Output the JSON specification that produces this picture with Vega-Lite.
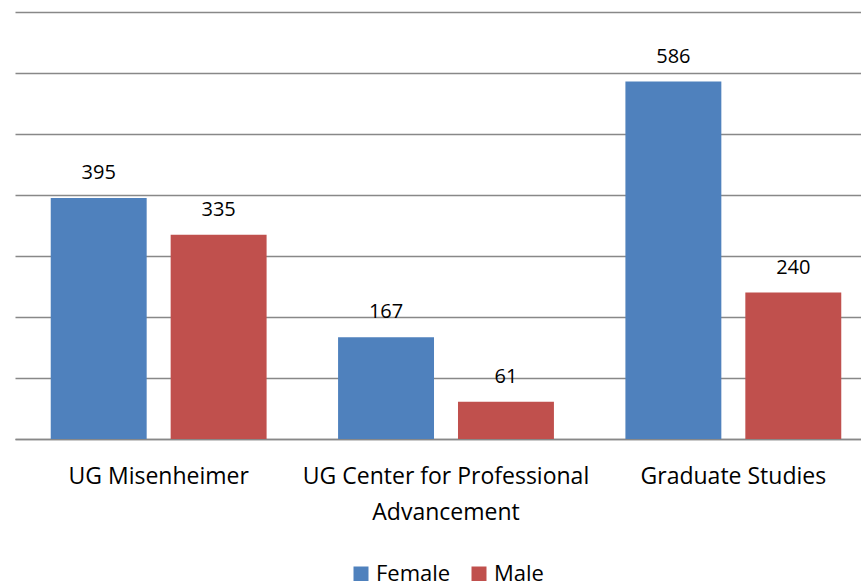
{
  "$schema": "https://vega.github.io/schema/vega-lite/v6.json",
  "width": 862,
  "height": 427,
  "autosize": {"type": "none"},
  "padding": {"left": 15, "top": 12, "right": 0, "bottom": 142},
  "background": "white",
  "config": {"view": {"stroke": null}},
  "data": {
    "values": [
      {"program": "UG Misenheimer", "gender": "Female", "count": 395},
      {"program": "UG Misenheimer", "gender": "Male", "count": 335},
      {"program": "UG Center for Professional|Advancement", "gender": "Female", "count": 167},
      {"program": "UG Center for Professional|Advancement", "gender": "Male", "count": 61},
      {"program": "Graduate Studies", "gender": "Female", "count": 586},
      {"program": "Graduate Studies", "gender": "Male", "count": 240}
    ]
  },
  "encoding": {
    "x": {
      "field": "program",
      "type": "nominal",
      "sort": ["UG Misenheimer", "UG Center for Professional|Advancement", "Graduate Studies"],
      "scale": {"paddingInner": 0, "paddingOuter": 0},
      "axis": {
        "title": null,
        "ticks": false,
        "domainColor": "#888888",
        "domainWidth": 1.5,
        "labelFont": "Open Sans",
        "labelFontSize": 23,
        "labelColor": "black",
        "labelPadding": 26,
        "labelLineHeight": 36,
        "labelAngle": 0,
        "labelLimit": 0,
        "labelExpr": "split(datum.label, '|')"
      }
    },
    "xOffset": {
      "field": "gender",
      "type": "nominal",
      "sort": ["Female", "Male"],
      "scale": {"paddingInner": 0.2, "paddingOuter": 0.298}
    },
    "y": {
      "field": "count",
      "type": "quantitative",
      "scale": {"domain": [0, 700], "nice": false},
      "axis": {
        "title": null,
        "labels": false,
        "ticks": false,
        "domain": false,
        "grid": true,
        "gridColor": "#888888",
        "gridWidth": 1.5,
        "values": [0, 100, 200, 300, 400, 500, 600, 700]
      }
    }
  },
  "layer": [
    {
      "mark": {"type": "bar"},
      "encoding": {
        "color": {
          "field": "gender",
          "type": "nominal",
          "scale": {"domain": ["Female", "Male"], "range": ["#4F81BD", "#C0504D"]},
          "legend": {
            "orient": "none",
            "legendX": 335,
            "legendY": 551,
            "direction": "horizontal",
            "title": null,
            "symbolType": "square",
            "symbolSize": 225,
            "symbolStrokeWidth": 0,
            "symbolOpacity": 1,
            "labelFont": "Open Sans",
            "labelFontSize": 22,
            "labelColor": "black",
            "labelOffset": 4,
            "columnPadding": 17,
            "padding": 0
          }
        }
      }
    },
    {
      "mark": {"type": "text", "dy": -19, "baseline": "alphabetic", "font": "Open Sans", "fontSize": 20, "color": "black"},
      "encoding": {"text": {"field": "count", "type": "quantitative"}}
    }
  ]
}
